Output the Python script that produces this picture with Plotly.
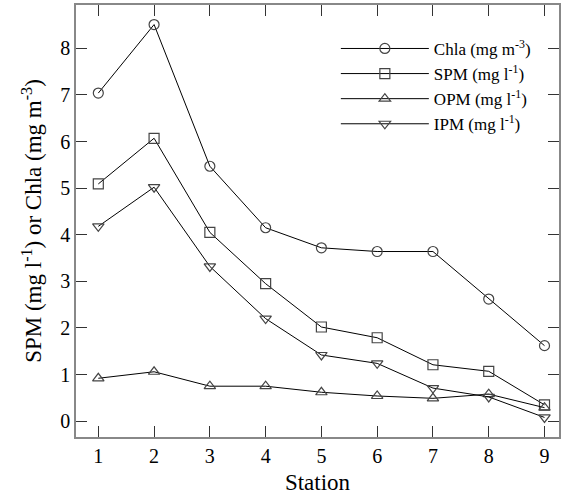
import plotly.graph_objects as go

stations = [1, 2, 3, 4, 5, 6, 7, 8, 9]
chla = [7.04, 8.51, 5.47, 4.15, 3.72, 3.64, 3.64, 2.62, 1.62]
spm = [5.09, 6.07, 4.05, 2.95, 2.02, 1.79, 1.21, 1.07, 0.35]
opm = [0.92, 1.06, 0.75, 0.75, 0.62, 0.54, 0.49, 0.58, 0.29]
ipm = [4.18, 5.02, 3.32, 2.2, 1.42, 1.24, 0.71, 0.52, 0.08]

series = [
    ("Chla (mg m<sup>-3</sup>)", chla, "circle-open"),
    ("SPM (mg l<sup>-1</sup>)", spm, "square-open"),
    ("OPM (mg l<sup>-1</sup>)", opm, "triangle-up-open"),
    ("IPM (mg l<sup>-1</sup>)", ipm, "triangle-down-open"),
]

FONT = "Liberation Serif, Times New Roman, DejaVu Serif, serif"

fig = go.Figure()
for name, values, symbol in series:
    fig.add_trace(go.Scatter(
        x=stations,
        y=values,
        mode="lines+markers",
        name=name,
        line=dict(color="black", width=1),
        marker=dict(symbol=symbol, size=10, color="#444444",
                    line=dict(width=1.2, color="#444444")),
    ))

axis_style = dict(
    showline=True,
    linecolor="#888888",
    linewidth=1.5,
    mirror="ticks",
    ticks="inside",
    ticklen=11,
    tickcolor="#333333",
    tickwidth=1,
    showgrid=False,
    zeroline=False,
    automargin=False,
    tickfont=dict(family=FONT, size=20, color="black"),
)

fig.update_layout(
    width=562,
    height=499,
    margin=dict(l=76, r=3, t=5, b=62),
    plot_bgcolor="white",
    paper_bgcolor="white",
    font=dict(family=FONT, color="black"),
    showlegend=True,
    legend=dict(
        x=0.538, y=0.94, xanchor="left", yanchor="top",
        font=dict(family=FONT, size=17),
        bgcolor="rgba(0,0,0,0)",
        itemwidth=88,
    ),
    xaxis=dict(
        axis_style,
        range=[0.6, 9.26],
        tickvals=stations,
        title=dict(text="Station", font=dict(family=FONT, size=23), standoff=8),
    ),
    yaxis=dict(
        axis_style,
        range=[-0.34, 8.93],
        tickvals=[0, 1, 2, 3, 4, 5, 6, 7, 8],
        title=dict(text="SPM (mg l<sup>-1</sup>) or Chla (mg m<sup>-3</sup>)",
                   font=dict(family=FONT, size=23), standoff=12),
    ),
)

# the page body has a default 8px margin; drop it so the figure fills the window
fig.write_html("out.html", config={"displayModeBar": False},
               post_script="document.body.style.margin='0';")
